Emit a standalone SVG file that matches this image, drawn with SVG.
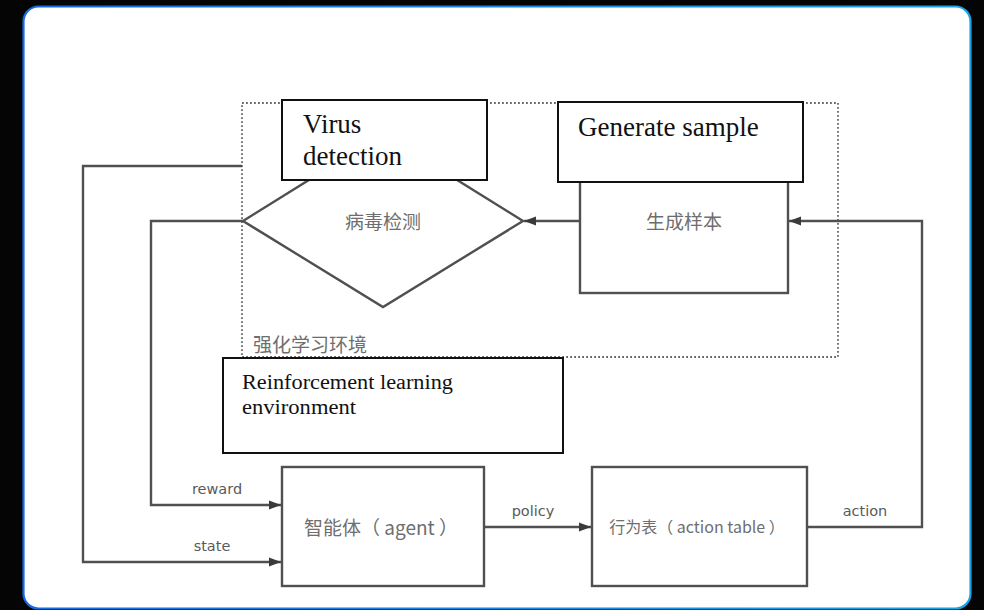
<svg xmlns="http://www.w3.org/2000/svg" width="984" height="610" viewBox="0 0 984 610">
  <defs>
    <linearGradient id="cardEdge" x1="0" y1="0" x2="1" y2="0">
      <stop offset="0" stop-color="#1668e4"/>
      <stop offset="1" stop-color="#1aa2e6"/>
    </linearGradient>
    <marker id="arrow" viewBox="0 0 12 10" refX="12" refY="5" markerWidth="12" markerHeight="10" markerUnits="userSpaceOnUse" orient="auto">
      <path d="M0,0.5 L12,5 L0,9.5 Z" fill="#3a3a3a"/>
    </marker>
    <style>
      .box { fill: #ffffff; stroke: #505050; stroke-width: 2.4; }
      .tag { fill: #ffffff; stroke: #111111; stroke-width: 2; }
      .wire { fill: none; stroke: #505050; stroke-width: 2.4; }
      .zone { fill: none; stroke: #666666; stroke-width: 1.8; stroke-dasharray: 1.8 2.2; }
      .cn { font-family: "Noto Sans CJK SC", "Noto Sans", sans-serif; fill: #6e6e6e; }
      .lbl { font-family: "DejaVu Sans", "Noto Sans", sans-serif; font-size: 14.5px; fill: #5a5a5a; }
      .en { font-family: "Liberation Serif", "Times New Roman", serif; fill: #111111; }
    </style>
  </defs>

  <!-- backdrop and card -->
  <rect x="0" y="0" width="984" height="610" fill="#050505"/>
  <rect x="23.5" y="6.5" width="947" height="602" rx="15" ry="15" fill="#ffffff" stroke="url(#cardEdge)" stroke-width="2.2"/>

  <!-- reinforcement learning environment boundary -->
  <g id="environment-zone">
    <rect class="zone" x="242" y="103" width="596" height="254"/>
    <text class="cn" x="253" y="352" font-size="19">强化学习环境</text>
  </g>

  <!-- connectors -->
  <g id="connectors">
    <!-- state: from environment boundary back to agent -->
    <path class="wire" d="M242,166 H83 V562 H281" marker-end="url(#arrow)"/>
    <!-- reward: from detection back to agent -->
    <path class="wire" d="M243,221 H151 V505 H281" marker-end="url(#arrow)"/>
    <!-- policy -->
    <path class="wire" d="M484,527 H591" marker-end="url(#arrow)"/>
    <!-- action -->
    <path class="wire" d="M807,527 H922 V221 H789" marker-end="url(#arrow)"/>
    <!-- sample to detection -->
    <path class="wire" d="M580,221 H524" marker-end="url(#arrow)"/>
    <text class="lbl" x="217" y="494" text-anchor="middle">reward</text>
    <text class="lbl" x="212" y="551" text-anchor="middle">state</text>
    <text class="lbl" x="533" y="516" text-anchor="middle">policy</text>
    <text class="lbl" x="865" y="516" text-anchor="middle">action</text>
  </g>

  <!-- virus detection decision -->
  <g id="virus-detection">
    <polygon class="box" points="243,221 383,134 523,221 383,307"/>
    <text class="cn" x="383" y="229" font-size="19" text-anchor="middle">病毒检测</text>
    <rect class="tag" x="282" y="100" width="205" height="80"/>
    <text class="en" x="303" y="133" font-size="27">Virus</text>
    <text class="en" x="303" y="165" font-size="27">detection</text>
  </g>

  <!-- sample generation -->
  <g id="generate-sample">
    <rect class="box" x="580" y="160" width="208" height="133"/>
    <text class="cn" x="684" y="229" font-size="19" text-anchor="middle">生成样本</text>
    <rect class="tag" x="558" y="102" width="245" height="80"/>
    <text class="en" x="578" y="136" font-size="27">Generate sample</text>
  </g>

  <!-- environment caption -->
  <g id="environment-caption">
    <rect class="tag" x="223" y="358" width="340" height="95"/>
    <text class="en" x="242" y="389" font-size="20" textLength="211" lengthAdjust="spacingAndGlyphs">Reinforcement learning</text>
    <text class="en" x="242" y="414" font-size="20" textLength="114" lengthAdjust="spacingAndGlyphs">environment</text>
  </g>

  <!-- agent -->
  <g id="agent">
    <rect class="box" x="282" y="467" width="202" height="119"/>
    <text class="cn" x="381" y="535" font-size="19" text-anchor="middle">智能体（ agent ）</text>
  </g>

  <!-- action table -->
  <g id="action-table">
    <rect class="box" x="592" y="467" width="215" height="119"/>
    <text class="cn" x="697" y="533" font-size="16" text-anchor="middle">行为表（ action table ）</text>
  </g>
</svg>
